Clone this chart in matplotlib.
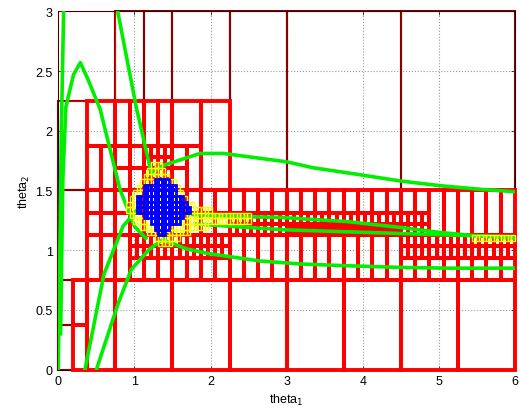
import matplotlib
matplotlib.use("Agg")
import matplotlib.pyplot as plt
from matplotlib.patches import Rectangle

plt.rcParams['font.family'] = ['Liberation Sans', 'DejaVu Sans']

# ---------------- data ----------------
x_ticks = [0, 1, 2, 3, 4, 5, 6]
y_ticks = [0, 0.5, 1, 1.5, 2, 2.5, 3]
y_tick_labels = ["0", "0.5", "1", "1.5", "2", "2.5", "3"]

# large boxes discarded early (x0, x1, y0, y1)
dark_boxes = [
    (0, 0.1875, 0, 0.375), (0, 0.1875, 0.375, 0.75),
    (0, 0.375, 0.75, 1.5), (0, 0.375, 1.5, 2.25),
    (0.75, 1.125, 2.25, 3), (1.125, 1.5, 2.25, 3), (1.5, 2.25, 2.25, 3),
    (2.25, 3, 1.5, 3), (3, 4.5, 1.5, 3), (4.5, 6, 1.5, 3),
]
thin_boxes = [(0, 0.75, 2.25, 3)]

# red subpaving patches: x0, x1, y0, y1, nx, ny
red_patches = [
    (0.1875, 0.375, 0, 0.75, 1, 2),
    (0.375, 0.75, 0, 0.75, 1, 1),
    (0.75, 6, 0, 0.75, 7, 1),
    (0.375, 0.75, 1.875, 2.25, 1, 1),
    (0.75, 1.5, 1.875, 2.25, 4, 1),
    (1.5, 1.875, 1.875, 2.25, 1, 1),
    (1.875, 2.25, 1.5, 2.25, 1, 1),
    (1.5, 1.6875, 1.6875, 1.875, 1, 1),
    (1.6875, 1.875, 1.5, 1.875, 1, 1),
    (1.5, 1.6875, 1.5, 1.6875, 1, 1),
    (0.375, 0.75, 1.5, 1.875, 2, 1),
    (0.75, 1.5, 1.5, 1.875, 4, 2),
    (1.125, 1.5, 1.5, 1.875, 4, 4),
    (0.375, 4.5, 0.75, 1.125, 22, 1),
    (0.9375, 1.5, 0.9375, 1.125, 6, 2),
    (1.5, 2.25, 0.9375, 1.125, 8, 2),
    (4.5, 6, 0.75, 0.9375, 8, 1),
    (4.5, 6, 0.9375, 1.125, 16, 2),
    (0.375, 0.75, 1.125, 1.5, 2, 2),
    (0.75, 2.25, 1.125, 1.5, 8, 2),
    (2.25, 4.875, 1.3125, 1.5, 14, 1),
    (2.25, 3.0, 1.125, 1.3125, 8, 2),
    (3.0, 4.5, 1.21875, 1.3125, 16, 1),
    (3.0, 4.5, 1.125, 1.21875, 32, 1),
    (4.5, 4.875, 1.125, 1.3125, 4, 2),
    (4.875, 6, 1.125, 1.5, 6, 1),
]

# fine boxes around the solution set: grid origin / cell size
blob_x0, blob_ytop, blob_d = 0.75, 1.78125, 0.046875
# (row from top, first col, last col, kind)
blob_runs = [
    (1, 10, 12, 'Y'),
    (2, 9, 13, 'Y'),
    (3, 8, 14, 'Y'),
    (4, 7, 10, 'Y'), (4, 11, 14, 'B'), (4, 15, 16, 'Y'),
    (5, 6, 7, 'Y'), (5, 8, 16, 'B'), (5, 17, 17, 'Y'),
    (6, 5, 7, 'Y'), (6, 8, 16, 'B'), (6, 17, 18, 'Y'),
    (7, 4, 5, 'Y'), (7, 6, 18, 'B'), (7, 19, 19, 'Y'),
    (8, 3, 5, 'Y'), (8, 6, 19, 'B'), (8, 20, 21, 'Y'),
    (9, 3, 5, 'Y'), (9, 6, 20, 'B'), (9, 21, 26, 'Y'),
    (10, 4, 7, 'Y'), (10, 8, 18, 'B'), (10, 19, 37, 'Y'),
    (11, 5, 9, 'Y'), (11, 10, 17, 'B'), (11, 18, 37, 'Y'),
    (12, 7, 10, 'Y'), (12, 11, 14, 'B'), (12, 15, 25, 'Y'),
    (13, 9, 11, 'Y'), (13, 12, 13, 'B'), (13, 14, 20, 'Y'),
    (14, 11, 17, 'Y'),
    (15, 12, 15, 'Y'),
]
# yellow strip at right end: x0, x1, y0, y1, n
right_yellow = (5.4375, 6.0, 1.078125, 1.125, 12)

# green curves
g1_x = [0.0, 0.02, 0.04, 0.07]
g1_y = [0.0, 1.0, 2.0, 3.0]
g2_x = [0.03, 0.06, 0.1, 0.2, 0.29, 0.39, 0.55, 0.81, 1.0, 1.15]
g2_y = [0.3, 1.6, 2.2, 2.47, 2.57, 2.43, 2.18, 1.51, 1.2, 1.1]
g3_x = [0.78, 1.03, 1.16, 1.22, 1.38, 1.86, 2.17, 3.0, 3.35, 3.88, 4.49, 5.02, 5.54, 6.0]
g3_y = [3.0, 2.18, 1.82, 1.65, 1.71, 1.81, 1.81, 1.74, 1.69, 1.64, 1.58, 1.54, 1.51, 1.49]
g4_x = [0.35, 0.6, 0.85, 1.05]
g4_y = [0.0, 0.8, 1.2, 1.35]
g5_x = [0.5, 0.79, 0.96, 1.2, 1.4]
g5_y = [0.0, 0.56, 0.84, 1.01, 1.1]
g6_x = [1.4, 1.69, 1.99, 2.65, 3.18, 3.79, 4.45, 5.1, 6.0]
g6_y = [1.08, 1.01, 0.97, 0.91, 0.885, 0.87, 0.857, 0.85, 0.85]
g7_x = [1.7, 2.5, 2.91, 3.79, 4.5, 5.0, 5.5, 6.0]
g7_y = [1.3, 1.28, 1.275, 1.24, 1.19, 1.15, 1.12, 1.10]
g8_x = [1.8, 2.5, 3.0, 4.0, 5.0, 6.0]
g8_y = [1.22, 1.19, 1.17, 1.15, 1.13, 1.11]

# ---------------- drawing ----------------
fig = plt.figure(figsize=(5.2, 4.1), dpi=100)
ax = fig.add_axes([0.1121, 0.0959, 0.8783, 0.8741])
ax.set_xlim(0, 6)
ax.set_ylim(0, 3)


def box(x0, x1, y0, y1, color, lw, z):
    ax.add_patch(Rectangle((x0, y0), x1 - x0, y1 - y0, fill=False,
                           edgecolor=color, linewidth=lw, zorder=z,
                           clip_on=False))


for (x0, x1, y0, y1) in dark_boxes:
    box(x0, x1, y0, y1, '#8a0000', 1.5, 2)
for (x0, x1, y0, y1) in thin_boxes:
    box(x0, x1, y0, y1, '#e00000', 0.8, 2)

for (x0, x1, y0, y1, nx, ny) in red_patches:
    dx = (x1 - x0) / nx
    dy = (y1 - y0) / ny
    for i in range(nx):
        for j in range(ny):
            box(x0 + i * dx, x0 + (i + 1) * dx, y0 + j * dy, y0 + (j + 1) * dy,
                '#ff0000', 2.8, 3)

for gx, gy in [(g1_x, g1_y), (g2_x, g2_y), (g3_x, g3_y), (g4_x, g4_y),
               (g5_x, g5_y), (g6_x, g6_y), (g7_x, g7_y), (g8_x, g8_y)]:
    ax.plot(gx, gy, color='#00ee00', linewidth=2.6, zorder=4,
            solid_joinstyle='round')

for (row, c0, c1, kind) in blob_runs:
    y1 = blob_ytop - row * blob_d
    y0 = y1 - blob_d
    for c in range(c0, c1 + 1):
        x0 = blob_x0 + c * blob_d
        if kind == 'Y':
            box(x0, x0 + blob_d, y0, y1, '#ffff00', 1.0, 5)
        else:
            box(x0, x0 + blob_d, y0, y1, '#0000ff', 2.0, 6)

rx0, rx1, ry0, ry1, rn = right_yellow
rdx = (rx1 - rx0) / rn
for i in range(rn):
    box(rx0 + i * rdx, rx0 + (i + 1) * rdx, ry0, ry1, '#ffff00', 1.0, 5)

ax.set_xticks(x_ticks)
ax.set_yticks(y_ticks)
ax.set_yticklabels(y_tick_labels)
ax.tick_params(direction='in', top=True, right=True, labelsize=9,
               length=3, width=0.5, pad=4)
ax.grid(True, linestyle=':', color='#999999', linewidth=0.8)
ax.set_axisbelow(True)
for s in ax.spines.values():
    s.set_linewidth(0.5)
ax.set_xlabel('theta$_1$', fontsize=9, labelpad=3.5)
ax.set_ylabel('theta$_2$', fontsize=9, labelpad=2.5)

fig.savefig('out.png', dpi=100)
